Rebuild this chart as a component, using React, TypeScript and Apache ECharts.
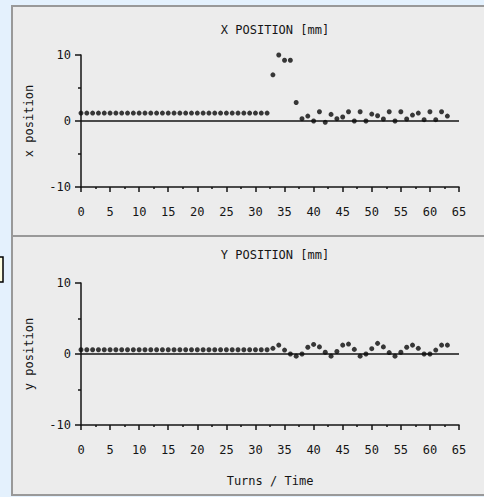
import React, { useEffect, useRef } from "react";
import * as echarts from "echarts";

const turns: number[] = [
  0, 1, 2, 3, 4, 5, 6, 7, 8, 9, 10, 11, 12, 13, 14, 15, 16, 17, 18, 19, 20, 21,
  22, 23, 24, 25, 26, 27, 28, 29, 30, 31, 32, 33, 34, 35, 36, 37, 38, 39, 40, 41,
  42, 43, 44, 45, 46, 47, 48, 49, 50, 51, 52, 53, 54, 55, 56, 57, 58, 59, 60, 61,
  62, 63,
];

const xPosition: number[] = [
  1.2, 1.2, 1.2, 1.2, 1.2, 1.2, 1.2, 1.2, 1.2, 1.2, 1.2, 1.2, 1.2, 1.2, 1.2, 1.2,
  1.2, 1.2, 1.2, 1.2, 1.2, 1.2, 1.2, 1.2, 1.2, 1.2, 1.2, 1.2, 1.2, 1.2, 1.2, 1.2,
  1.2, 7.0, 10.0, 9.2, 9.2, 2.8, 0.35, 0.75, 0, 1.4, -0.2, 1.0, 0.35, 0.6, 1.4, 0,
  1.4, 0, 1.05, 0.8, 0.3, 1.4, 0, 1.4, 0.3, 0.9, 1.2, 0.2, 1.4, 0.2, 1.4, 0.75,
];

const yPosition: number[] = [
  0.6, 0.6, 0.6, 0.6, 0.6, 0.6, 0.6, 0.6, 0.6, 0.6, 0.6, 0.6, 0.6, 0.6, 0.6, 0.6,
  0.6, 0.6, 0.6, 0.6, 0.6, 0.6, 0.6, 0.6, 0.6, 0.6, 0.6, 0.6, 0.6, 0.6, 0.6, 0.6,
  0.6, 0.8, 1.25, 0.55, 0, -0.3, 0, 0.95, 1.35, 1.0, 0.25, -0.3, 0.35, 1.25, 1.4,
  0.65, -0.3, 0, 0.75, 1.5, 1.0, 0.2, -0.3, 0.25, 0.95, 1.25, 0.8, 0, 0, 0.55,
  1.25, 1.25,
];

const xRange: number[] = [0, 65];
const yRange: number[] = [-10, 10];
const zeroLine: number[] = [0, 0];

const titles: string[] = ["X POSITION [mm]", "Y POSITION [mm]"];
const yNames: string[] = ["x position", "y position"];
const xName = "Turns / Time";

const FONT = "DejaVu Sans Mono";
const INK = "#151515";

export default function App() {
  const ref = useRef<HTMLDivElement>(null);

  useEffect(() => {
    if (!ref.current) return;
    const chart = echarts.init(ref.current, undefined, { renderer: "svg" });

    const makeX = (gridIndex: number, withName: boolean) => ({
      type: "value",
      gridIndex,
      min: xRange[0],
      max: xRange[1],
      interval: 5,
      name: withName ? xName : "",
      nameLocation: "middle",
      nameGap: 50,
      nameTextStyle: { fontFamily: FONT, fontSize: 12, color: INK },
      axisLine: { show: true, onZero: false, lineStyle: { color: INK, width: 1.5 } },
      axisTick: { show: true, length: 5, lineStyle: { color: INK, width: 1.5 } },
      minorTick: { show: true, splitNumber: 2, length: 2, lineStyle: { color: INK, width: 1.5 } },
      axisLabel: { fontFamily: FONT, fontSize: 12, color: INK, margin: 19 },
      splitLine: { show: false },
      minorSplitLine: { show: false },
    });

    const makeY = (gridIndex: number, name: string) => ({
      type: "value",
      gridIndex,
      min: yRange[0],
      max: yRange[1],
      interval: 10,
      name,
      nameLocation: "middle",
      nameGap: 46,
      nameTextStyle: { fontFamily: FONT, fontSize: 12, color: INK },
      axisLine: { show: true, onZero: false, lineStyle: { color: INK, width: 1.5 } },
      axisTick: { show: true, length: 6, lineStyle: { color: INK, width: 1.5 } },
      minorTick: { show: true, splitNumber: 2, length: 3, lineStyle: { color: INK, width: 1.5 } },
      axisLabel: { fontFamily: FONT, fontSize: 12, color: INK, margin: 10 },
      splitLine: { show: false },
      minorSplitLine: { show: false },
    });

    const scatter = (idx: number, values: number[]) => ({
      type: "scatter",
      xAxisIndex: idx,
      yAxisIndex: idx,
      symbol: "circle",
      symbolSize: 5,
      itemStyle: { color: "#0a0a0a" },
      data: turns.map((t, i) => [t, values[i]]),
      z: 3,
    });

    const zero = (idx: number) => ({
      type: "line",
      xAxisIndex: idx,
      yAxisIndex: idx,
      showSymbol: false,
      symbol: "none",
      lineStyle: { color: INK, width: 1.5 },
      data: [
        [xRange[0], zeroLine[0]],
        [xRange[1], zeroLine[1]],
      ],
      z: 2,
    });

    chart.setOption({
      animation: false,
      backgroundColor: "#e4f1fd",
      graphic: [
        {
          type: "rect",
          shape: { x: 12, y: 6, width: 480, height: 230 },
          style: { fill: "#ececec", stroke: "#999", lineWidth: 2 },
          z: -10,
        },
        {
          type: "rect",
          shape: { x: 12, y: 236, width: 480, height: 259 },
          style: { fill: "#ececec", stroke: "#999", lineWidth: 2 },
          z: -10,
        },
        {
          type: "rect",
          shape: { x: -10, y: 257, width: 13, height: 25 },
          style: { fill: "#ffffe1", stroke: "#000", lineWidth: 1.5 },
          z: -9,
        },
      ],
      title: [
        {
          text: titles[0],
          left: 270,
          top: 19,
          textAlign: "center",
          textStyle: { fontFamily: FONT, fontSize: 12, fontWeight: "normal", color: INK },
        },
        {
          text: titles[1],
          left: 270,
          top: 244,
          textAlign: "center",
          textStyle: { fontFamily: FONT, fontSize: 12, fontWeight: "normal", color: INK },
        },
      ],
      grid: [
        { left: 81, top: 55, width: 378, height: 132 },
        { left: 81, top: 283, width: 378, height: 142 },
      ],
      xAxis: [makeX(0, false), makeX(1, true)],
      yAxis: [makeY(0, yNames[0]), makeY(1, yNames[1])],
      series: [zero(0), zero(1), scatter(0, xPosition), scatter(1, yPosition)],
    });

    return () => chart.dispose();
  }, []);

  return (
    <div
      ref={ref}
      style={{ position: "absolute", left: 0, top: 0, width: 484, height: 497 }}
    />
  );
}
